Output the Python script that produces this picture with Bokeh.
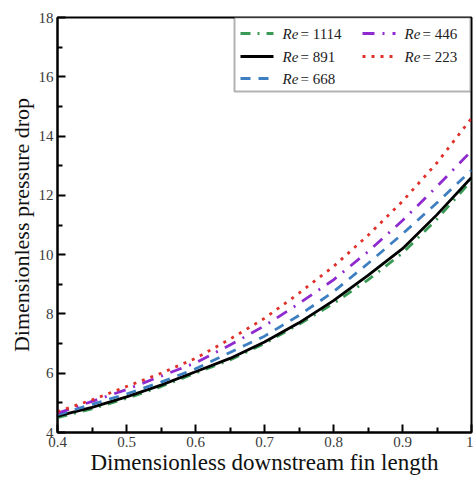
from bokeh.plotting import figure
from bokeh.models import Range1d, FixedTicker, Label, Arrow, BoxAnnotation
from bokeh.embed import file_html
from bokeh.resources import INLINE

# ---- data ----
fin_length = [0.4, 0.45, 0.5, 0.55, 0.6, 0.65, 0.7, 0.75, 0.8, 0.85, 0.9, 0.95, 1.0]
re_1114 = [4.50, 4.80, 5.15, 5.55, 6.00, 6.45, 7.00, 7.65, 8.35, 9.15, 10.05, 11.20, 12.50]
re_891 = [4.55, 4.85, 5.20, 5.60, 6.05, 6.50, 7.05, 7.70, 8.45, 9.30, 10.20, 11.35, 12.60]
re_668 = [4.60, 4.95, 5.30, 5.70, 6.15, 6.70, 7.25, 7.95, 8.75, 9.70, 10.70, 11.75, 12.85]
re_446 = [4.65, 5.05, 5.45, 5.90, 6.35, 6.95, 7.60, 8.35, 9.15, 10.10, 11.15, 12.30, 13.50]
re_223 = [4.70, 5.10, 5.55, 6.00, 6.50, 7.15, 7.85, 8.70, 9.60, 10.65, 11.80, 13.10, 14.60]

x_ticks = [0.4, 0.5, 0.6, 0.7, 0.8, 0.9, 1.0]
x_minor = [0.45, 0.55, 0.65, 0.75, 0.85, 0.95]
y_ticks = [4, 6, 8, 10, 12, 14, 16, 18]
y_minor = [5, 7, 9, 11, 13, 15, 17]

FONT = "Liberation Serif"

p = figure(width=473, height=479, output_backend="svg", toolbar_location=None,
           x_range=Range1d(0.4, 1.0), y_range=Range1d(4, 18),
           min_border_left=57, min_border_right=2, min_border_top=17, min_border_bottom=47)
p.xgrid.visible = False
p.ygrid.visible = False
p.background_fill_color = "white"
p.border_fill_color = "white"
p.outline_line_color = "black"
p.outline_line_width = 2
p.outline_line_alpha = 1

p.xaxis.ticker = FixedTicker(ticks=x_ticks, minor_ticks=x_minor)
p.yaxis.ticker = FixedTicker(ticks=y_ticks, minor_ticks=y_minor)
p.xaxis.major_label_overrides = {1: "1", 1.0: "1"}

for ax in (p.xaxis, p.yaxis):
    ax.axis_line_width = 2
    ax.axis_line_color = "black"
    ax.major_tick_in = 8
    ax.major_tick_out = 0
    ax.minor_tick_in = 5
    ax.minor_tick_out = 0
    ax.major_tick_line_width = 2
    ax.minor_tick_line_width = 2
    ax.major_label_text_font = FONT
    ax.major_label_text_font_size = "15px"
    ax.major_label_text_color = "#3a3a3a"
    ax.axis_label_text_font = FONT
    ax.axis_label_text_font_style = "normal"
    ax.axis_label_text_color = "#111111"

p.xaxis.major_label_standoff = 4
p.yaxis.major_label_standoff = 4

p.xaxis.axis_label = "Dimensionless downstream fin length"
p.xaxis.axis_label_text_font_size = "23px"
p.xaxis.axis_label_standoff = 0

p.yaxis.axis_label = "Dimensionless pressure drop"
p.yaxis.axis_label_text_font_size = "22px"
p.yaxis.axis_label_standoff = 2

series = [
    ("1114", re_1114, "#3a9a55", "10 7 2 7"),
    ("891", re_891, "black", "solid"),
    ("668", re_668, "#3d7fc1", "10 8"),
    ("446", re_446, "#8e2ad0", "12 8 2 8"),
    ("223", re_223, "#e0302a", "3 6"),
]
for name, ys, col, dash in series:
    p.line(fin_length, ys, line_color=col, line_width=2.8, line_dash=dash)

# ---- legend (screen units relative to the frame) ----
p.add_layout(BoxAnnotation(left=177, right=413, bottom=341, top=415,
                           left_units="screen", right_units="screen",
                           top_units="screen", bottom_units="screen",
                           fill_color="white", fill_alpha=1,
                           line_color="black", line_width=2))

legend_pos = {
    "1114": (183, 399),
    "891": (183, 376),
    "668": (183, 354),
    "446": (305, 399),
    "223": (305, 376),
}
for name, ys, col, dash in series:
    lx, ly = legend_pos[name]
    p.add_layout(Arrow(end=None, x_start=lx, y_start=ly, x_end=lx + 33, y_end=ly,
                       start_units="screen", end_units="screen",
                       line_color=col, line_width=2.8, line_dash=dash))
    p.add_layout(Label(x=lx + 42, y=ly, x_units="screen", y_units="screen",
                       text="Re", text_font=FONT, text_font_style="italic",
                       text_font_size="15px", text_baseline="middle", text_color="#222222"))
    p.add_layout(Label(x=lx + 60, y=ly, x_units="screen", y_units="screen",
                       text="= " + name, text_font=FONT,
                       text_font_size="15px", text_baseline="middle", text_color="#222222"))

open("out.html", "w").write(file_html(p, INLINE))
